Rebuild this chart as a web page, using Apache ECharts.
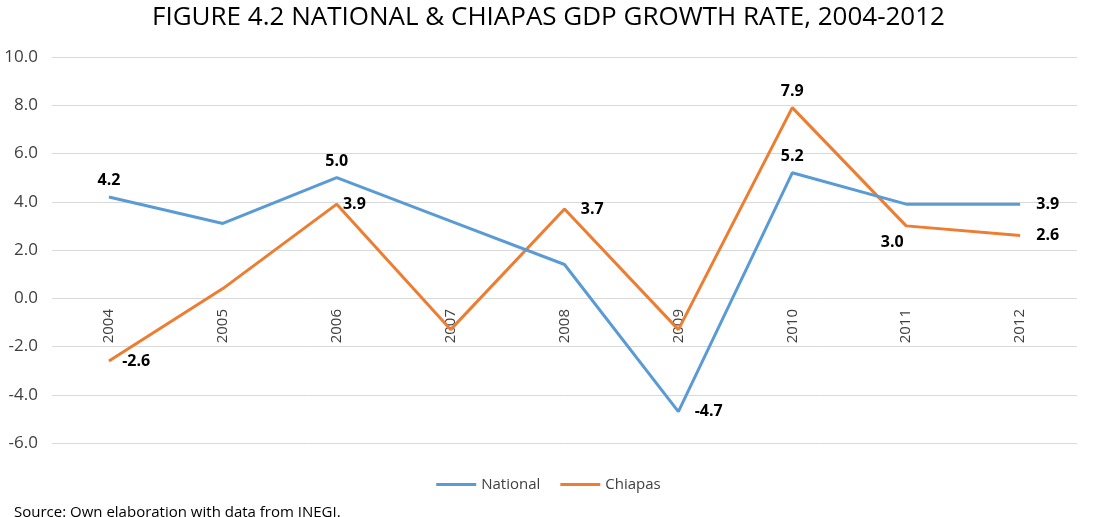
<!DOCTYPE html>
<html>
<head>
<meta charset="utf-8">
<script src="https://cdn.jsdelivr.net/npm/echarts@6/dist/echarts.min.js"></script>
<style>
  html, body { margin: 0; padding: 0; background: #fff; }
  #chart { width: 1097px; height: 517px; }
</style>
</head>
<body>
<div id="chart"></div>
<script>
// GDP growth rate (%), national vs. Chiapas
const years = ['2004', '2005', '2006', '2007', '2008', '2009', '2010', '2011', '2012'];
const national = [4.2, 3.1, 5.0, 3.2, 1.4, -4.7, 5.2, 3.9, 3.9];
const chiapas = [-2.6, 0.4, 3.9, -1.3, 3.7, -1.3, 7.9, 3.0, 2.6];

// where each value label sits (null = no label)
const nationalLabelPos = ['top', null, 'top', null, null, 'right', 'top', null, 'right'];
const chiapasLabelPos = ['right', null, 'right', null, 'right', null, 'top', 'bottom', 'right'];

const labelStyle = { color: '#000', fontWeight: 'bold', fontSize: 16, fontFamily: 'Open Sans' };

function withLabels(values, positions, tweaks) {
  return values.map((v, i) => {
    const pos = positions[i];
    if (!pos) return { value: v, label: { show: false } };
    const extra = pos === 'right' ? { distance: 16 } : pos === 'bottom' ? { distance: 8, offset: [-14, 0] } : { distance: 8 };
    return {
      value: v,
      label: Object.assign({ show: true, position: pos, formatter: v.toFixed(1) }, labelStyle, extra, tweaks[i] || {})
    };
  });
}

const chart = echarts.init(document.getElementById('chart'));
chart.setOption({
  backgroundColor: '#fff',
  animation: false,
  title: {
    text: 'FIGURE 4.2 NATIONAL & CHIAPAS GDP GROWTH RATE, 2004-2012',
    left: 'center',
    top: 0,
    textStyle: { fontFamily: 'Open Sans', fontWeight: 'normal', fontSize: 26, color: '#000' }
  },
  legend: {
    bottom: 20,
    left: 'center',
    itemWidth: 40,
    itemHeight: 3,
    itemGap: 20,
    icon: 'rect',
    textStyle: { fontFamily: 'Open Sans', fontSize: 15, color: '#404040' },
    data: ['National', 'Chiapas']
  },
  grid: { left: 52, right: 20, top: 57, bottom: 74 },
  xAxis: {
    type: 'category',
    data: years,
    boundaryGap: true,
    // labels sit on the zero line, 145px above the bottom of the plot (-6 .. 0)
    offset: -145,
    axisLine: { show: false, onZero: false },
    axisTick: { show: false },
    axisLabel: {
      rotate: 90,
      fontFamily: 'Open Sans',
      fontSize: 15,
      color: '#404040',
      margin: 11
    }
  },
  yAxis: {
    type: 'value',
    min: -6,
    max: 10,
    interval: 2,
    axisLine: { show: false },
    axisTick: { show: false },
    splitLine: { lineStyle: { color: '#d9d9d9', width: 1 } },
    axisLabel: {
      fontFamily: 'Open Sans',
      fontSize: 17,
      color: '#404040',
      margin: 14,
      formatter: v => v.toFixed(1)
    }
  },
  series: [
    {
      name: 'National',
      type: 'line',
      data: withLabels(national, nationalLabelPos, {}),
      symbol: 'circle',
      symbolSize: 0.5,
      showSymbol: true,
      lineStyle: { color: '#5B9BD5', width: 3 },
      itemStyle: { color: '#5B9BD5' },
      emphasis: { disabled: true },
      z: 3
    },
    {
      name: 'Chiapas',
      type: 'line',
      data: withLabels(chiapas, chiapasLabelPos, { 0: { distance: 13 }, 2: { distance: 6 } }),
      symbol: 'circle',
      symbolSize: 0.5,
      showSymbol: true,
      lineStyle: { color: '#ED7D31', width: 3 },
      itemStyle: { color: '#ED7D31' },
      emphasis: { disabled: true },
      z: 2
    }
  ],
  graphic: [{
    type: 'text',
    left: 14,
    top: 505,
    style: {
      text: 'Source: Own elaboration with data from INEGI.',
      fontFamily: 'Open Sans',
      fontSize: 15,
      fill: '#000'
    }
  }]
});
</script>
</body>
</html>
